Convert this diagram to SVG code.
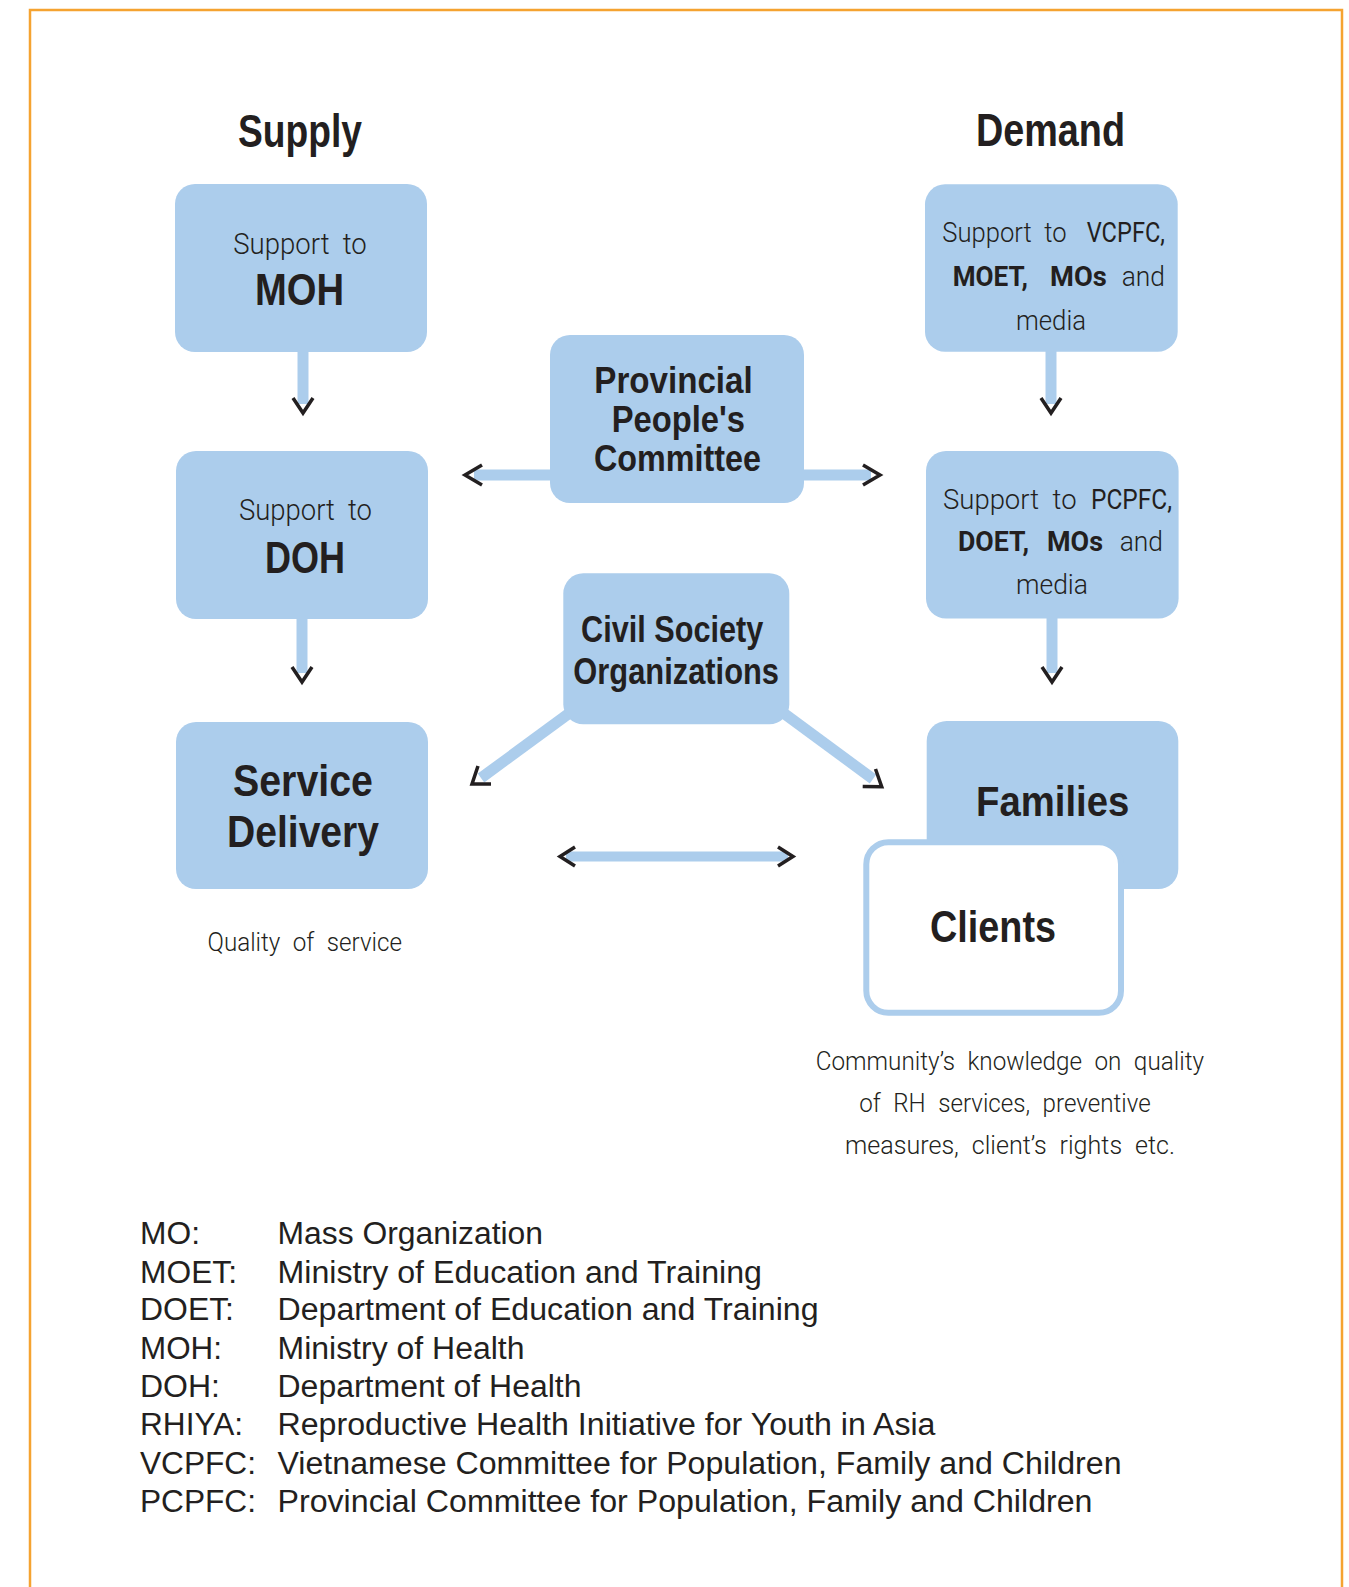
<svg xmlns="http://www.w3.org/2000/svg" width="1349" height="1587" viewBox="0 0 1349 1587">
<style>
.box{fill:#ACCDEC;}
.bar{stroke:#ACCDEC;fill:none;}
.chev{stroke:#231F20;stroke-width:3.5;fill:none;stroke-linejoin:miter;stroke-linecap:butt;}
.hd{font-family:"Liberation Sans",Arial,sans-serif;font-weight:bold;fill:#231F20;}
.lt{font-family:Roboto,"Liberation Sans",Arial,sans-serif;font-weight:300;fill:#231F20;word-spacing:7px;}
.md{font-weight:400;}
.bd{font-weight:700;}
.lg{font-family:"Liberation Sans",Arial,sans-serif;font-size:31px;fill:#231F20;}
</style>
<rect width="1349" height="1587" fill="#FFFFFF"/>
<path d="M30,1587 V10 H1342 V1587" fill="none" stroke="#F5A331" stroke-width="2.5"/>

<g id="titles">
<text class="hd" x="238" y="147" font-size="47" textLength="124" lengthAdjust="spacingAndGlyphs">Supply</text>
<text class="hd" x="976" y="146" font-size="47" textLength="149" lengthAdjust="spacingAndGlyphs">Demand</text>
</g>

<g id="connectors">
<!-- MOH -> DOH -->
<line class="bar" x1="303" y1="350" x2="303" y2="404" stroke-width="11"/>
<polyline class="chev" points="293,398 303,413 313,398"/>
<!-- DOH -> Service Delivery -->
<line class="bar" x1="302" y1="617" x2="302" y2="673" stroke-width="11"/>
<polyline class="chev" points="292,667 302,682 312,667"/>
<!-- VCPFC -> PCPFC -->
<line class="bar" x1="1051" y1="350" x2="1051" y2="404" stroke-width="11"/>
<polyline class="chev" points="1041,398 1051,413 1061,398"/>
<!-- PCPFC -> Families -->
<line class="bar" x1="1052" y1="617" x2="1052" y2="673" stroke-width="11"/>
<polyline class="chev" points="1042,667 1052,682 1062,667"/>
<!-- PPC left / right -->
<line class="bar" x1="555" y1="475" x2="474" y2="475" stroke-width="11"/>
<polyline class="chev" points="482,465 465,475 482,485"/>
<line class="bar" x1="800" y1="475" x2="871" y2="475" stroke-width="11"/>
<polyline class="chev" points="863,465 880,475 863,485"/>
<!-- CSO diagonals -->
<line class="bar" x1="575" y1="709" x2="481" y2="778" stroke-width="11"/>
<polyline class="chev" points="478,766 472,784 491,784"/>
<line class="bar" x1="778" y1="709" x2="873" y2="779" stroke-width="11"/>
<polyline class="chev" points="875.5,769 881.7,786.7 862.7,786.4"/>
<!-- bottom double arrow -->
<line class="bar" x1="566" y1="856.5" x2="788" y2="856.5" stroke-width="10"/>
<polyline class="chev" points="575,847 560,856.5 575,866"/>
<polyline class="chev" points="778,847 793,856.5 778,866"/>
</g>

<g id="node-moh">
<rect class="box" x="175" y="184" width="252" height="168" rx="20"/>
<text class="lt" x="233.3" y="254" font-size="30" textLength="133.4" lengthAdjust="spacingAndGlyphs">Support to</text>
<text class="hd" x="255" y="305" font-size="44" textLength="89" lengthAdjust="spacingAndGlyphs">MOH</text>
</g>

<g id="node-doh">
<rect class="box" x="176" y="451" width="252" height="168" rx="20"/>
<text class="lt" x="239" y="520" font-size="30" textLength="133" lengthAdjust="spacingAndGlyphs">Support to</text>
<text class="hd" x="265" y="573" font-size="44" textLength="80" lengthAdjust="spacingAndGlyphs">DOH</text>
</g>

<g id="node-service-delivery">
<rect class="box" x="176" y="722" width="252" height="167" rx="20"/>
<text class="hd" x="233" y="796" font-size="45" textLength="140" lengthAdjust="spacingAndGlyphs">Service</text>
<text class="hd" x="227" y="847" font-size="45" textLength="152" lengthAdjust="spacingAndGlyphs">Delivery</text>
</g>

<g id="node-ppc">
<rect class="box" x="550" y="335" width="254" height="168" rx="20"/>
<text class="hd" x="594.3" y="393.3" font-size="36" textLength="158.4" lengthAdjust="spacingAndGlyphs">Provincial</text>
<text class="hd" x="611.7" y="431.7" font-size="36" textLength="133.3" lengthAdjust="spacingAndGlyphs">People's</text>
<text class="hd" x="594" y="470.7" font-size="36" textLength="167" lengthAdjust="spacingAndGlyphs">Committee</text>
</g>

<g id="node-cso">
<rect class="box" x="563.3" y="573.3" width="226" height="151" rx="20"/>
<text class="hd" x="581" y="641.7" font-size="37" textLength="182.3" lengthAdjust="spacingAndGlyphs">Civil Society</text>
<text class="hd" x="573.3" y="684" font-size="37" textLength="205.7" lengthAdjust="spacingAndGlyphs">Organizations</text>
</g>

<g id="node-vcpfc">
<rect class="box" x="925" y="184.3" width="252.7" height="167.4" rx="20"/>
<text class="lt" x="942.3" y="241.7" font-size="28" textLength="124.4" lengthAdjust="spacingAndGlyphs">Support to</text>
<text class="lt md" x="1086.7" y="241.7" font-size="28" textLength="78.3" lengthAdjust="spacingAndGlyphs">VCPFC,</text>
<text class="lt bd" x="952.7" y="286" font-size="28" textLength="75.3" lengthAdjust="spacingAndGlyphs">MOET,</text>
<text class="lt bd" x="1050" y="286" font-size="28" textLength="56.7" lengthAdjust="spacingAndGlyphs">MOs</text>
<text class="lt" x="1121.7" y="286" font-size="28" textLength="43.3" lengthAdjust="spacingAndGlyphs">and</text>
<text class="lt" x="1016" y="330" font-size="28" textLength="70" lengthAdjust="spacingAndGlyphs">media</text>
</g>

<g id="node-pcpfc">
<rect class="box" x="926" y="451" width="252.6" height="167.5" rx="20"/>
<text class="lt" x="943" y="509" font-size="28" textLength="133.6" lengthAdjust="spacingAndGlyphs">Support to</text>
<text class="lt md" x="1091" y="509" font-size="28" textLength="81" lengthAdjust="spacingAndGlyphs">PCPFC,</text>
<text class="lt bd" x="958" y="551" font-size="28" textLength="71" lengthAdjust="spacingAndGlyphs">DOET,</text>
<text class="lt bd" x="1047" y="551" font-size="28" textLength="56" lengthAdjust="spacingAndGlyphs">MOs</text>
<text class="lt" x="1119.7" y="551" font-size="28" textLength="43.3" lengthAdjust="spacingAndGlyphs">and</text>
<text class="lt" x="1016" y="594" font-size="28" textLength="72" lengthAdjust="spacingAndGlyphs">media</text>
</g>

<g id="node-families">
<rect class="box" x="926.7" y="721" width="251.6" height="168" rx="20"/>
<text class="hd" x="976" y="816" font-size="43" textLength="153.3" lengthAdjust="spacingAndGlyphs">Families</text>
</g>

<g id="node-clients">
<rect x="866.3" y="842.3" width="254.7" height="170.4" rx="22" fill="#FFFFFF" stroke="#ACCDEC" stroke-width="6"/>
<text class="hd" x="930" y="941.7" font-size="44" textLength="126" lengthAdjust="spacingAndGlyphs">Clients</text>
</g>

<g id="notes">
<text class="lt" x="207.5" y="951" font-size="26" textLength="194.5" lengthAdjust="spacingAndGlyphs">Quality of service</text>
<text class="lt" x="815.7" y="1070" font-size="26" textLength="388.3" lengthAdjust="spacingAndGlyphs">Community’s knowledge on quality</text>
<text class="lt" x="859.3" y="1112" font-size="26" textLength="291.4" lengthAdjust="spacingAndGlyphs">of RH services, preventive</text>
<text class="lt" x="845" y="1154" font-size="26" textLength="330" lengthAdjust="spacingAndGlyphs">measures, client’s rights etc.</text>
</g>

<g id="legend">
<text class="lg" x="140" y="1244" textLength="60" lengthAdjust="spacingAndGlyphs">MO:</text>
<text class="lg" x="277.5" y="1244" textLength="265.5" lengthAdjust="spacingAndGlyphs">Mass Organization</text>
<text class="lg" x="140" y="1283" textLength="97" lengthAdjust="spacingAndGlyphs">MOET:</text>
<text class="lg" x="277.5" y="1283" textLength="484.5" lengthAdjust="spacingAndGlyphs">Ministry of Education and Training</text>
<text class="lg" x="140" y="1320" textLength="94" lengthAdjust="spacingAndGlyphs">DOET:</text>
<text class="lg" x="277.5" y="1320" textLength="541" lengthAdjust="spacingAndGlyphs">Department of Education and Training</text>
<text class="lg" x="140" y="1359" textLength="82" lengthAdjust="spacingAndGlyphs">MOH:</text>
<text class="lg" x="277.5" y="1359" textLength="247" lengthAdjust="spacingAndGlyphs">Ministry of Health</text>
<text class="lg" x="140" y="1397" textLength="80" lengthAdjust="spacingAndGlyphs">DOH:</text>
<text class="lg" x="277.5" y="1397" textLength="304" lengthAdjust="spacingAndGlyphs">Department of Health</text>
<text class="lg" x="140" y="1435" textLength="103" lengthAdjust="spacingAndGlyphs">RHIYA:</text>
<text class="lg" x="277.5" y="1435" textLength="658" lengthAdjust="spacingAndGlyphs">Reproductive Health Initiative for Youth in Asia</text>
<text class="lg" x="140" y="1474" textLength="116" lengthAdjust="spacingAndGlyphs">VCPFC:</text>
<text class="lg" x="277.5" y="1474" textLength="844" lengthAdjust="spacingAndGlyphs">Vietnamese Committee for Population, Family and Children</text>
<text class="lg" x="140" y="1512" textLength="116" lengthAdjust="spacingAndGlyphs">PCPFC:</text>
<text class="lg" x="277.5" y="1512" textLength="815" lengthAdjust="spacingAndGlyphs">Provincial Committee for Population, Family and Children</text>
</g>
</svg>
